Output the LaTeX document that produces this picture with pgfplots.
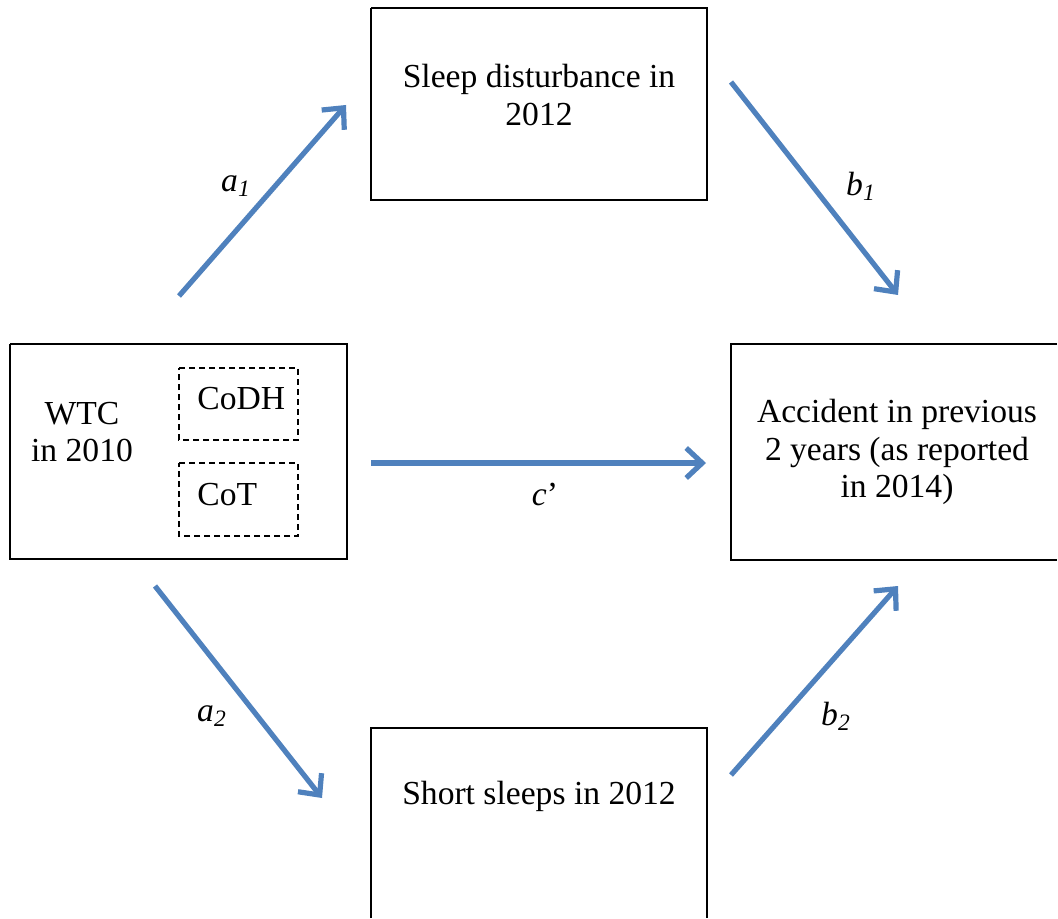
\documentclass[border=0pt]{standalone}
\usepackage{pgfplots}
\pgfplotsset{compat=1.18}
\usetikzlibrary{arrows.meta}
\usepackage{fontspec}
\setmainfont{Liberation Serif}
\definecolor{arrblue}{RGB}{79,129,189}
\tikzset{txt/.style={font=\fontsize{16.8pt}{18.8pt}\selectfont, align=center, inner sep=0pt}}
\begin{document}
\begin{tikzpicture}
\begin{axis}[
  scale only axis, width=529pt, height=459.5pt,
  xmin=0, xmax=1058, ymin=0, ymax=919, y dir=reverse,
  hide axis, clip=false,
]
% frame (invisible, sets the picture extent)
\addplot[draw=none, forget plot] coordinates {(0,0) (1058,919)};
% boxes
\addplot[black, line width=0.8pt] coordinates {(371,8) (707,8) (707,200) (371,200) (371,8)};
\addplot[black, line width=0.8pt] coordinates {(10,344) (347,344) (347,559) (10,559) (10,344)};
\addplot[black, line width=0.8pt] coordinates {(1057,344) (731,344) (731,560) (1057,560)};
\addplot[black, line width=0.8pt] coordinates {(371,918) (371,728) (707,728) (707,918)};
\addplot[black, line width=0.7pt, dash pattern=on 3pt off 2pt] coordinates {(179,368) (298,368) (298,440) (179,440) (179,368)};
\addplot[black, line width=0.7pt, dash pattern=on 3pt off 2pt] coordinates {(179,463) (298,463) (298,536) (179,536) (179,463)};
% arrows
\addplot[arrblue, line width=2.6pt, -{Straight Barb[length=8pt,width=15pt]}] coordinates {(179,296) (346,105)};
\addplot[arrblue, line width=2.6pt, -{Straight Barb[length=8pt,width=15pt]}] coordinates {(731,82) (898,295)};
\addplot[arrblue, line width=2.6pt, -{Straight Barb[length=8pt,width=15pt]}] coordinates {(371,463) (706,463)};
\addplot[arrblue, line width=2.6pt, -{Straight Barb[length=8pt,width=15pt]}] coordinates {(155,586) (322,798)};
\addplot[arrblue, line width=2.6pt, -{Straight Barb[length=8pt,width=15pt]}] coordinates {(731,775) (898,586)};
% texts
\node[txt] at (axis cs:539,95) {Sleep disturbance in\\2012};
\node[txt] at (axis cs:82,432) {WTC\\in 2010};
\node[txt,anchor=west] at (axis cs:197,399) {CoDH};
\node[txt,anchor=west] at (axis cs:197,495) {CoT};
\node[txt] at (axis cs:897,452) {Accident in previous\\2 years (as reported\\in 2014)};
\node[txt] at (axis cs:539,796) {Short sleeps in 2012};
\node[txt] at (axis cs:236,186) {\textit{a\textsubscript{1}}};
\node[txt] at (axis cs:861,186) {\textit{b\textsubscript{1}}};
\node[txt] at (axis cs:545,494) {\textit{c}\textquoteright};
\node[txt] at (axis cs:212,716) {\textit{a\textsubscript{2}}};
\node[txt] at (axis cs:836,716) {\textit{b\textsubscript{2}}};
\end{axis}
\end{tikzpicture}
\end{document}
